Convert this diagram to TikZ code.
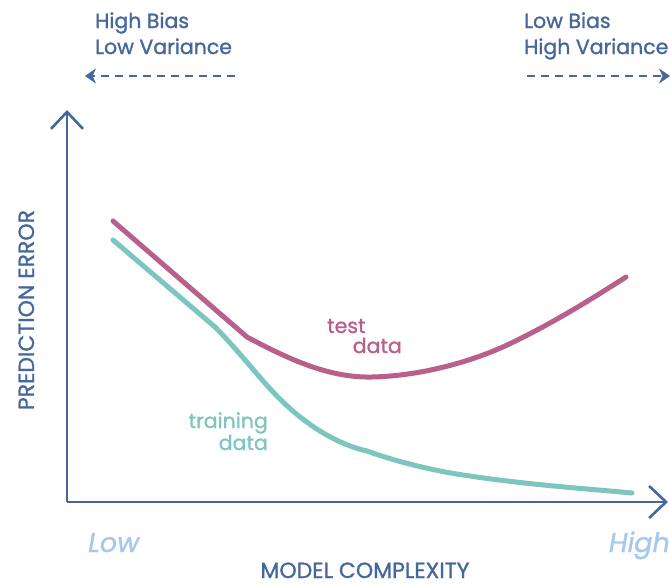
\documentclass[tikz,border=0pt]{standalone}
\usepackage{fontspec}
\setmainfont{Poppins}[UprightFeatures={FakeBold=1.2},ItalicFeatures={FakeBold=1.2}]
\usetikzlibrary{arrows.meta,positioning}
\definecolor{axisblue}{HTML}{46679B}
\definecolor{testpink}{HTML}{B8608A}
\definecolor{trainteal}{HTML}{7DC5BF}
\definecolor{lightblue}{HTML}{A4C8F0}

\begin{document}
\begin{tikzpicture}[x=1pt,y=-1pt]
    \tikzstyle{lbl}=[text=axisblue,font=\fontsize{20.5}{24}\selectfont,inner sep=0pt]
    \tikzstyle{ttl}=[lbl,font=\fontsize{22}{24}\selectfont]
    \tikzstyle{tick}=[text=lightblue,font=\fontsize{27}{28}\selectfont\itshape,inner sep=0pt]
    \tikzstyle{axis}=[draw=axisblue,line width=2.6pt,-{Straight Barb[length=17pt,width=32pt,line width=2.6pt]}]
    \tikzstyle{trend}=[draw=axisblue,line width=2.6pt,dash pattern=on 8pt off 6pt,-{Stealth[length=11pt,width=15pt]}]
    \tikzstyle{curve}=[line width=5pt,line cap=round,line join=round]

    \useasboundingbox (0,0) rectangle (670,584);

    % axes
    \coordinate (origin) at (67,502);
    \coordinate (y_top) at (67,110);
    \coordinate (x_end) at (668,502);
    \draw[axis] (origin) -- (y_top);
    \draw[axis] (origin) -- (x_end);

    % bias / variance
    \node[lbl,anchor=base west](hb_bias) at (95,28) {High Bias};
    \node[lbl,anchor=base west](lv_var) at (95,54) {Low Variance};
    \node[lbl,anchor=base west](lb_bias) at (524,28) {Low Bias};
    \node[lbl,anchor=base west](hv_var) at (524,54) {High Variance};
    \coordinate (left_from) at (235,76);
    \coordinate (left_to) at (85,76);
    \coordinate (right_from) at (527,76);
    \coordinate (right_to) at (670,76);
    \draw[trend] (left_from) -- (left_to);
    \draw[trend] (right_from) -- (right_to);

    % curves
    \draw[curve,testpink] (113,221) -- (247,337)
        .. controls (290,360) and (330,378) .. (372,377)
        .. controls (420,376) and (470,362) .. (505,346)
        .. controls (550,325) and (590,300) .. (626,277);
    \draw[curve,trainteal] (113,240) -- (215,327)
        .. controls (240,352) and (262,382) .. (283,402)
        .. controls (310,428) and (340,445) .. (367,451)
        .. controls (400,463) and (440,472) .. (470,476)
        .. controls (530,485) and (590,489) .. (632,493);

    % curve labels
    \node[lbl,text=testpink,anchor=base west](test_lbl) at (327,333) {test};
    \node[lbl,text=testpink,anchor=base east](test_data) at (402,353) {data};
    \node[lbl,text=trainteal,anchor=base east](train_lbl) at (268,428) {training};
    \node[lbl,text=trainteal,anchor=base east](train_data) at (268,450) {data};

    % axis titles
    \node[tick,anchor=base west](low) at (88,552) {Low};
    \node[tick,anchor=base east](high) at (670,552) {High};
    \node[ttl,anchor=base](x_title) at (365,578) {MODEL COMPLEXITY};
    \node[ttl,anchor=base,rotate=90](y_title) at (34,310) {PREDICTION ERROR};
\end{tikzpicture}
\end{document}
